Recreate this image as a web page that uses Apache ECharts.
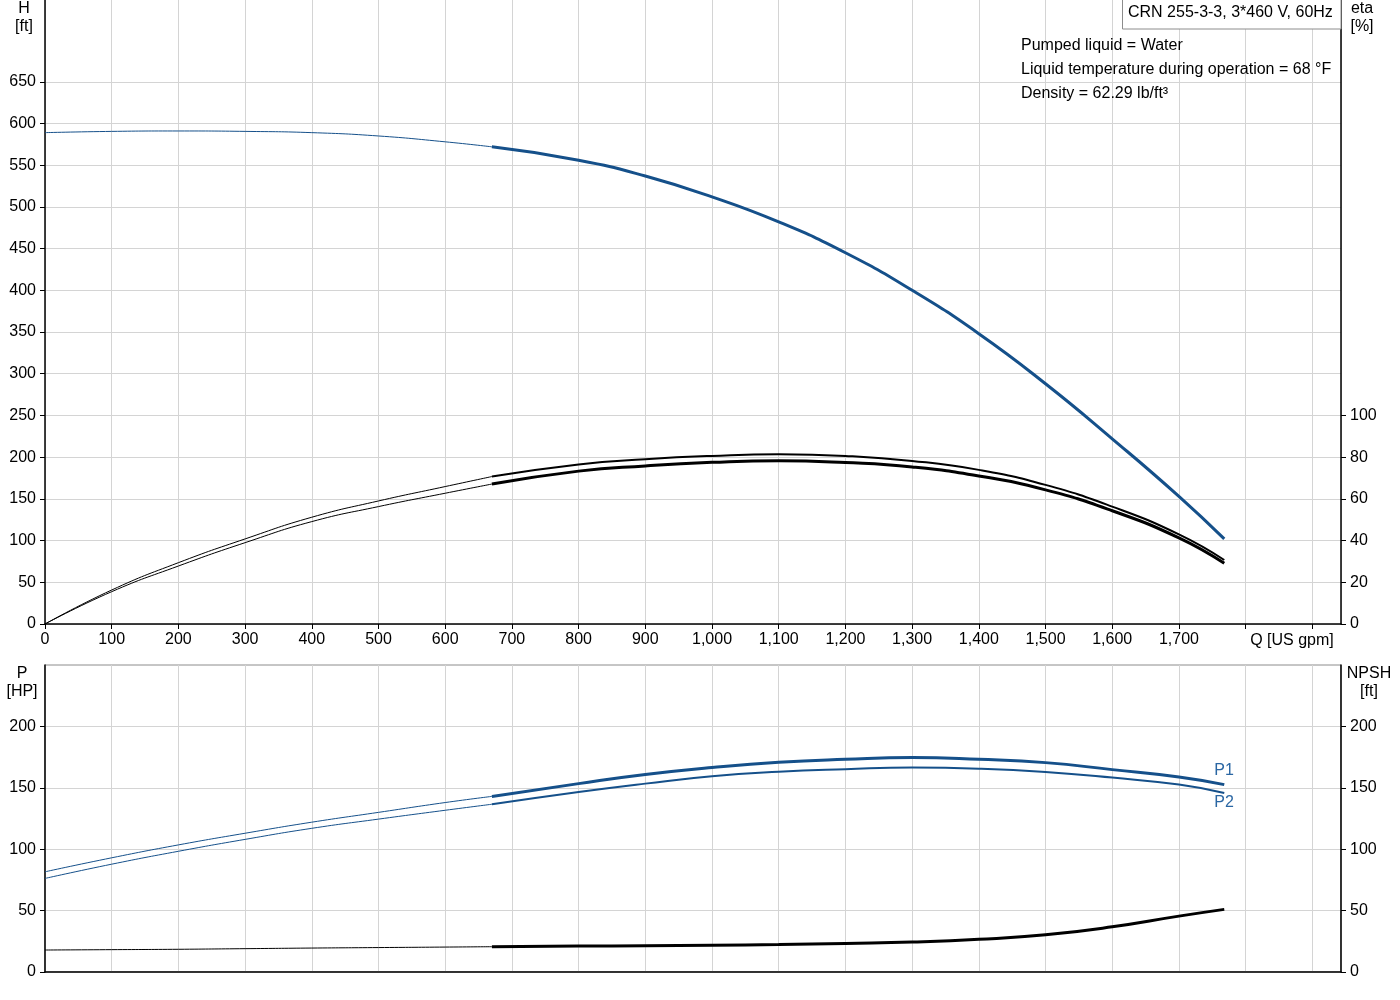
<!DOCTYPE html>
<html>
<head>
<meta charset="utf-8">
<script src="https://cdn.jsdelivr.net/npm/echarts@6/dist/echarts.min.js"></script>
<style>
  html, body { margin: 0; padding: 0; background: #fff; }
  #main { width: 1400px; height: 1000px; }
</style>
</head>
<body>
<div id="main"></div>
<script>
// flow points, thin part (outside operating range) and thick part
const qThin = [0, 100, 200, 300, 400, 500, 600, 670];
const qThick = [670, 800, 900, 1000, 1100, 1200, 1300, 1400, 1500, 1600, 1700, 1768];

// head [ft]
const headThin = [589, 590.5, 591, 590.5, 589, 585, 578, 572];
const headThick = [572, 556, 537, 512, 482, 445, 400, 348, 288, 222, 153, 102];

// efficiency [%]
const etaAThin = [0, 16.3, 29.4, 40.8, 51.2, 59, 65.9, 70.7];
const etaAThick = [70.7, 76.5, 79, 80.6, 81.4, 80.6, 78.2, 73.9, 66.7, 56.3, 43, 30.7];
const etaBThin = [0, 15.5, 27.8, 39, 49.1, 56.3, 62.7, 67.1];
const etaBThick = [67.1, 73.3, 75.8, 77.5, 78.3, 77.4, 75.3, 71, 64.3, 54.3, 41.3, 29.1];

// power [HP]
const p1Thin = [81.6, 93, 103.5, 113, 122, 130, 138, 143];
const p1Thick = [143, 153.4, 160.8, 166.5, 170.8, 173.2, 174.6, 173.2, 170.5, 164.8, 158.8, 152.6];
const p2Thin = [76.2, 87.8, 98.3, 108, 117, 124.5, 131.7, 136.6];
const p2Thick = [136.6, 146.6, 153.4, 159.4, 163, 165.1, 166.5, 165.6, 162.9, 158.3, 152.6, 145.8];

// NPSH [ft]
const npshThin = [17.9, 18.2, 18.5, 19, 19.5, 19.9, 20.3, 20.6];
const npshThick = [20.6, 21.1, 21.4, 21.7, 22.3, 23.3, 24.4, 26.6, 30.3, 36.8, 45.5, 51];

const headTicks = [0, 50, 100, 150, 200, 250, 300, 350, 400, 450, 500, 550, 600, 650];
const etaTicks = [0, 20, 40, 60, 80, 100];
const powerTicks = [0, 50, 100, 150, 200];

const BLUE = '#15508a';
const FONT = 'Liberation Sans';

const pairs = (xs, ys) => xs.map((x, i) => [x, ys[i]]);

function line(name, xs, ys, xi, yi, color, width, extra) {
  return Object.assign({
    name: name,
    type: 'line',
    xAxisIndex: xi,
    yAxisIndex: yi,
    data: pairs(xs, ys),
    smooth: 0.5,
    showSymbol: false,
    silent: true,
    animation: false,
    lineStyle: { color: color, width: width }
  }, extra || {});
}

const axisText = { color: '#000', fontSize: 16, fontFamily: FONT };
const gridLine = { show: true, lineStyle: { color: '#d4d4d4', width: 1 } };
const blackLine = { show: true, lineStyle: { color: '#000', width: 1.5 } };

const chart = echarts.init(document.getElementById('main'));

const xBase = {
  type: 'value',
  min: 0,
  max: 1943,
  interval: 100,
  axisLine: blackLine,
  splitLine: gridLine
};

function label(x, y, text, align) {
  return {
    type: 'text', x: x, y: y, z: 11,
    style: { text: text, font: '16px ' + FONT, fill: '#000', align: align || 'left', verticalAlign: 'middle' }
  };
}

chart.setOption({
  animation: false,
  grid: [
    { left: 45, top: 0, width: 1296, height: 624, show: false },
    { left: 45, top: 665, width: 1296, height: 307, show: true, borderColor: '#8c8c8c', borderWidth: 1 }
  ],
  xAxis: [
    Object.assign({}, xBase, {
      gridIndex: 0,
      axisTick: { show: true, length: 5, lineStyle: { color: '#000' } },
      axisLabel: Object.assign({}, axisText, {
        margin: 8,
        showMaxLabel: false,
        formatter: v => (v > 1700 ? '' : v.toLocaleString('en-US'))
      })
    }),
    Object.assign({}, xBase, {
      gridIndex: 1,
      axisTick: { show: false },
      axisLabel: { show: false }
    })
  ],
  yAxis: [
    {
      gridIndex: 0, type: 'value', min: 0, max: 748, interval: 50,
      axisLine: blackLine, splitLine: gridLine,
      axisTick: { show: true, length: 5, customValues: headTicks, lineStyle: { color: '#000' } },
      axisLabel: Object.assign({}, axisText, { margin: 9, customValues: headTicks })
    },
    {
      gridIndex: 0, type: 'value', position: 'right', min: 0, max: 299.2, interval: 20,
      axisLine: blackLine, splitLine: { show: false },
      axisTick: { show: true, length: 5, customValues: etaTicks, lineStyle: { color: '#000' } },
      axisLabel: Object.assign({}, axisText, { margin: 9, customValues: etaTicks })
    },
    {
      gridIndex: 1, type: 'value', min: 0, max: 250, interval: 50,
      axisLine: blackLine, splitLine: gridLine,
      axisTick: { show: true, length: 5, customValues: powerTicks, lineStyle: { color: '#000' } },
      axisLabel: Object.assign({}, axisText, { margin: 9, customValues: powerTicks })
    },
    {
      gridIndex: 1, type: 'value', position: 'right', min: 0, max: 250, interval: 50,
      axisLine: blackLine, splitLine: { show: false },
      axisTick: { show: true, length: 5, customValues: powerTicks, lineStyle: { color: '#000' } },
      axisLabel: Object.assign({}, axisText, { margin: 9, customValues: powerTicks })
    }
  ],
  series: [
    line('H', qThin, headThin, 0, 0, BLUE, 1),
    line('H', qThick, headThick, 0, 0, BLUE, 3),
    line('eta', qThin, etaAThin, 0, 1, '#000', 1),
    line('eta', qThick, etaAThick, 0, 1, '#000', 2),
    line('eta', qThin, etaBThin, 0, 1, '#000', 1),
    line('eta', qThick, etaBThick, 0, 1, '#000', 3),
    line('P1', qThin, p1Thin, 1, 2, BLUE, 1),
    line('P1', qThick, p1Thick, 1, 2, BLUE, 3, {
      endLabel: { show: true, formatter: 'P1', color: '#2a66a3', fontSize: 16, fontFamily: FONT, offset: [-18, -14] }
    }),
    line('P2', qThin, p2Thin, 1, 2, BLUE, 1),
    line('P2', qThick, p2Thick, 1, 2, BLUE, 2, {
      endLabel: { show: true, formatter: 'P2', color: '#2a66a3', fontSize: 16, fontFamily: FONT, offset: [-18, 10] }
    }),
    line('NPSH', qThin, npshThin, 1, 3, '#000', 1),
    line('NPSH', qThick, npshThick, 1, 3, '#000', 3)
  ],
  graphic: [
    label(24, 9, 'H', 'center'),
    label(24, 27, '[ft]', 'center'),
    label(1362, 9, 'eta', 'center'),
    label(1362, 27, '[%]', 'center'),
    label(22, 674, 'P', 'center'),
    label(22, 692, '[HP]', 'center'),
    label(1369, 674, 'NPSH', 'center'),
    label(1369, 692, '[ft]', 'center'),
    label(1292, 641, 'Q [US gpm]', 'center'),
    {
      type: 'rect', shape: { x: 1122.5, y: -1, width: 218.5, height: 30 },
      style: { fill: '#fff', stroke: '#8c8c8c', lineWidth: 1 }, z: 10
    },
    label(1128, 13, 'CRN 255-3-3, 3*460 V, 60Hz'),
    label(1021, 46, 'Pumped liquid = Water'),
    label(1021, 70, 'Liquid temperature during operation = 68 °F'),
    label(1021, 94, 'Density = 62.29 lb/ft³')
  ]
});
</script>
</body>
</html>
